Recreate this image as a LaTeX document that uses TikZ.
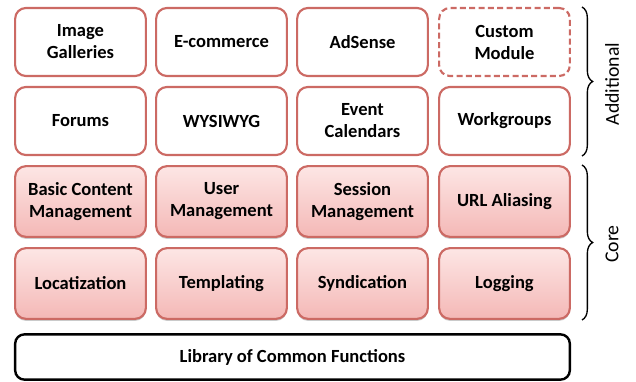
\documentclass[tikz,border=0pt]{standalone}
\usepackage{fontspec}
\setmainfont{Carlito}
\usetikzlibrary{shadows,decorations.pathreplacing}
\definecolor{bord}{HTML}{CC6A64}
\definecolor{ctop}{HTML}{FDE6E5}
\definecolor{cbot}{HTML}{F4B8B6}
\tikzset{
  modbox/.style={draw=bord, line width=1.6pt, rounded corners=8pt, fill=white,
    minimum width=98pt, minimum height=51pt, align=center, inner sep=2pt,
    font=\fontsize{13.9}{16.5}\selectfont\bfseries},
  corebox/.style={modbox, minimum height=53pt, top color=ctop, bottom color=cbot,
    drop shadow={shadow xshift=0pt, shadow yshift=-1.5pt, opacity=0.35, fill=black!60}},
  custombox/.style={modbox, dash pattern=on 4.5pt off 2.5pt},
  libbox/.style={draw=black, line width=1.8pt, rounded corners=7pt, fill=white,
    minimum width=416pt, minimum height=34pt,
    font=\fontsize{13.9}{16.5}\selectfont\bfseries},
  bracestyle/.style={draw=black, line width=1pt, decorate,
    decoration={brace, amplitude=8pt, aspect=0.5}},
  sidelabel/.style={rotate=90, font=\fontsize{14.8}{17}\selectfont}
}
\begin{document}
\begin{tikzpicture}[x=0.75pt, y=-0.75pt]
\useasboundingbox (0,0) rectangle (636,382);
% row 1
\node[modbox] (img) at (80.5,42) {Image\\Galleries};
\node[modbox] (ecom) at (221.5,42) {E-commerce};
\node[modbox] (ads) at (362.5,42) {AdSense};
\node[custombox] (cust) at (504.5,42) {Custom\\Module};
% row 2
\node[modbox] (for) at (80.5,121) {Forums};
\node[modbox] (wys) at (221.5,121) {WYSIWYG};
\node[modbox] (evt) at (362.5,121) {Event\\Calendars};
\node[modbox] (wg) at (504.5,121) {Workgroups};
% row 3
\node[corebox] (bcm) at (80.5,201.5) {Basic Content\\Management};
\node[corebox] (um) at (221.5,201.5) {User\\Management};
\node[corebox] (sm) at (362.5,201.5) {Session\\Management};
\node[corebox] (url) at (504.5,201.5) {URL Aliasing};
% row 4
\node[corebox] (loc) at (80.5,283.5) {Locatization};
\node[corebox] (tpl) at (221.5,283.5) {Templating};
\node[corebox] (syn) at (362.5,283.5) {Syndication};
\node[corebox] (log) at (504.5,283.5) {Logging};
% library
\node[libbox] (lib) at (292.5,357) {Library of Common Functions};
% braces
\coordinate (a1) at (582,7);
\coordinate (a2) at (582,156);
\coordinate (c1) at (582,165);
\coordinate (c2) at (582,320);
\draw[bracestyle] (a1) -- (a2);
\draw[bracestyle] (c1) -- (c2);
\node[sidelabel] (addl) at (612,84) {Additional};
\node[sidelabel] (core) at (612,244) {Core};
\end{tikzpicture}
\end{document}
